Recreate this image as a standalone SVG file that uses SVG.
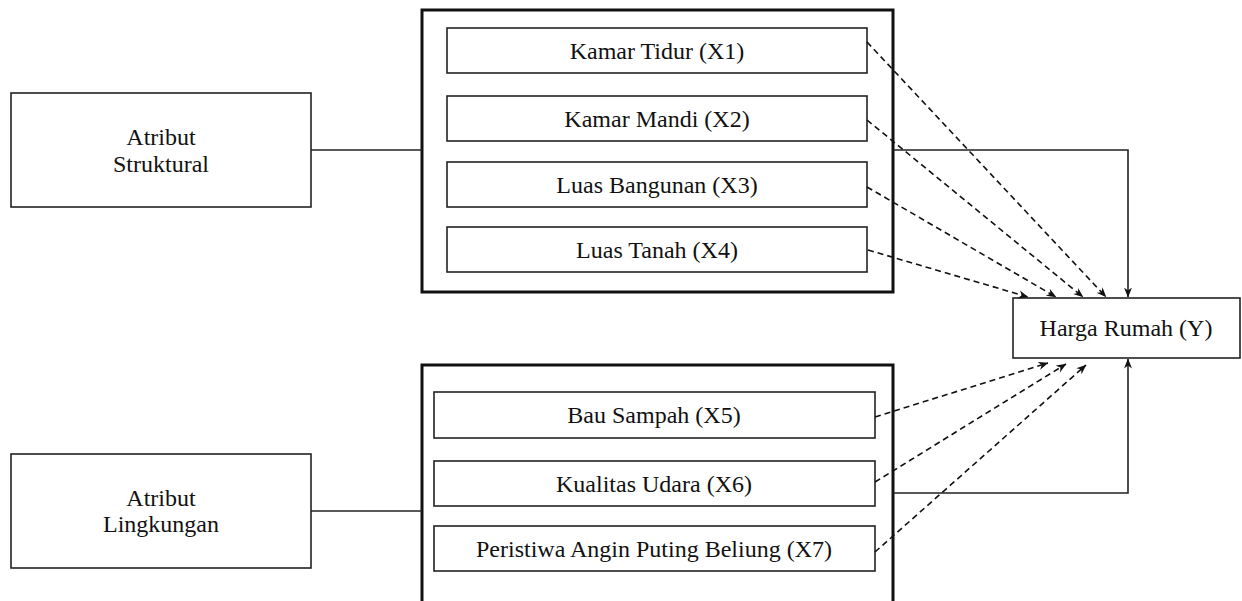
<svg xmlns="http://www.w3.org/2000/svg" width="1242" height="601" viewBox="0 0 1242 601">
<style>
.box{fill:#fff;stroke:#222;stroke-width:1.6}
.big{fill:#fff;stroke:#111;stroke-width:3}
.t{font-family:"Liberation Serif","Times New Roman",serif;font-size:24px;fill:#111;text-anchor:middle}
.ln{fill:none;stroke:#222;stroke-width:1.6}
.ds{fill:none;stroke:#111;stroke-width:1.6;stroke-dasharray:6 4;marker-end:url(#ah)}
.sa{fill:none;stroke:#222;stroke-width:1.6;marker-end:url(#ah)}
</style>
<defs>
<marker id="ah" viewBox="0 0 10 10" refX="9.5" refY="5" markerWidth="10" markerHeight="10" markerUnits="userSpaceOnUse" orient="auto">
<path d="M0,1 L10,5 L0,9 L3,5 Z" fill="#111"/>
</marker>
</defs>
<rect width="1242" height="601" fill="#fff"/>
<g id="atribut-struktural">
<rect class="box" x="11" y="93" width="300" height="114"/>
<text class="t" x="161" y="145">Atribut</text>
<text class="t" x="161" y="172">Struktural</text>
</g>
<g id="atribut-lingkungan">
<rect class="box" x="11" y="454" width="300" height="114"/>
<text class="t" x="161" y="506">Atribut</text>
<text class="t" x="161" y="532">Lingkungan</text>
</g>
<g id="group-struktural">
<rect class="big" x="422" y="10" width="471" height="282"/>
</g>
<g id="group-lingkungan">
<rect class="big" x="422" y="365" width="471" height="250"/>
</g>
<g id="x1"><rect class="box" x="447" y="28" width="420" height="45"/><text class="t" x="657" y="59">Kamar Tidur (X1)</text></g>
<g id="x2"><rect class="box" x="447" y="96" width="420" height="45"/><text class="t" x="657" y="127">Kamar Mandi (X2)</text></g>
<g id="x3"><rect class="box" x="447" y="162" width="420" height="45"/><text class="t" x="657" y="193">Luas Bangunan (X3)</text></g>
<g id="x4"><rect class="box" x="447" y="227" width="420" height="45"/><text class="t" x="657" y="258">Luas Tanah (X4)</text></g>
<g id="x5"><rect class="box" x="434" y="392" width="441" height="46"/><text class="t" x="654" y="423">Bau Sampah (X5)</text></g>
<g id="x6"><rect class="box" x="434" y="461" width="441" height="45"/><text class="t" x="654" y="492">Kualitas Udara (X6)</text></g>
<g id="x7"><rect class="box" x="434" y="526" width="441" height="45"/><text class="t" x="654" y="557">Peristiwa Angin Puting Beliung (X7)</text></g>
<g id="y"><rect class="box" x="1013" y="298" width="227" height="60"/><text class="t" x="1126" y="336">Harga Rumah (Y)</text></g>
<g id="connectors">
<path class="ln" d="M311,150 H422"/>
<path class="ln" d="M311,511 H422"/>
<path class="sa" d="M893,150 H1128 V297"/>
<path class="sa" d="M893,493 H1128 V359"/>
<path class="ds" d="M867,42 L1106,297"/>
<path class="ds" d="M867,120 L1083,297"/>
<path class="ds" d="M867,187 L1056,297"/>
<path class="ds" d="M868,250 L1028,297"/>
<path class="ds" d="M875,417 L1048,363"/>
<path class="ds" d="M875,482 L1066,364"/>
<path class="ds" d="M875,552 L1086,365"/>
</g>
</svg>
